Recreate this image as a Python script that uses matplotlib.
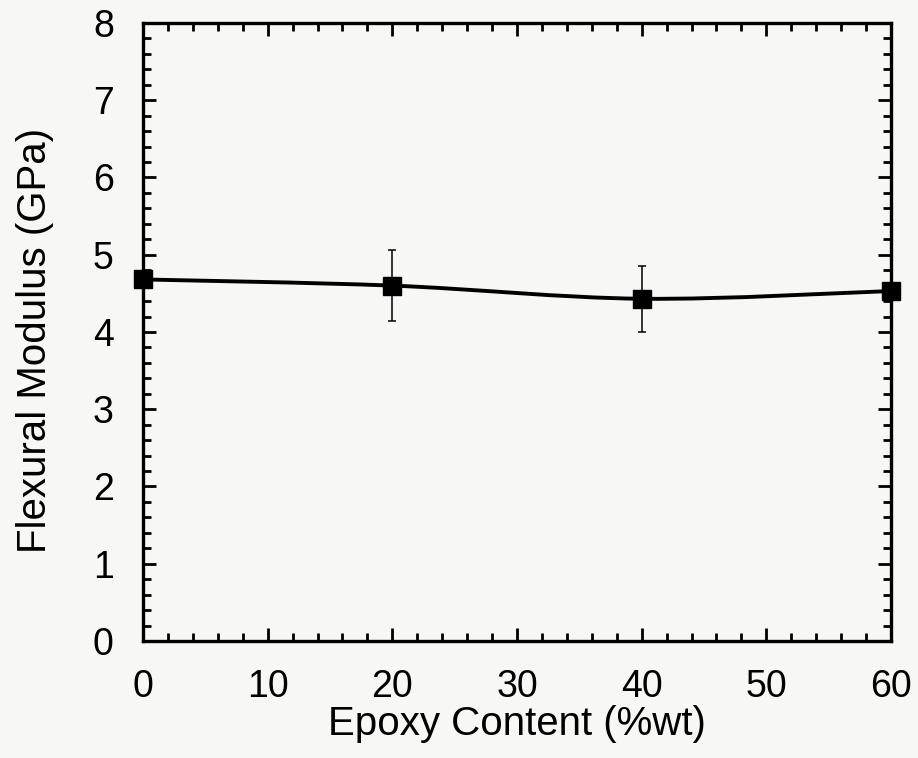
import numpy as np
import matplotlib
matplotlib.use("Agg")
import matplotlib.pyplot as plt
from matplotlib.path import Path
from matplotlib.patches import PathPatch
from matplotlib.ticker import MultipleLocator

# Values
epoxy_pct = [0, 20, 40, 60]
modulus_gpa = [4.68, 4.60, 4.43, 4.53]
modulus_err = [0.0, 0.46, 0.43, 0.0]

plt.rcParams["font.family"] = ["Liberation Sans", "DejaVu Sans"]

fig = plt.figure(figsize=(9.18, 7.58), dpi=100, facecolor="#f7f7f6")
ax = fig.add_axes([0.1558, 0.1544, 0.8148, 0.8153])
ax.set_facecolor("#f7f7f6")


def smooth_path(xs, ys):
    # Catmull-Rom through the data points, handed to matplotlib as cubic Bezier
    pts = np.column_stack([xs, ys]).astype(float)
    verts = [pts[0]]
    codes = [Path.MOVETO]
    n = len(pts)
    for i in range(n - 1):
        p0 = pts[max(i - 1, 0)]
        p1 = pts[i]
        p2 = pts[i + 1]
        p3 = pts[min(i + 2, n - 1)]
        c1 = p1 + (p2 - p0) / 6.0
        c2 = p2 - (p3 - p1) / 6.0
        verts += [c1, c2, p2]
        codes += [Path.CURVE4] * 3
    return Path(verts, codes)


ax.add_patch(PathPatch(smooth_path(epoxy_pct, modulus_gpa), facecolor="none",
                       edgecolor="black", linewidth=2.8, zorder=2))

ax.errorbar(epoxy_pct, modulus_gpa, yerr=modulus_err, fmt="s", color="black",
            markersize=13, ecolor="black", elinewidth=1.1, capsize=3,
            capthick=1.1, clip_on=False, zorder=3)

ax.set_xlim(0, 60)
ax.set_ylim(0, 8)
ax.xaxis.set_major_locator(MultipleLocator(10))
ax.xaxis.set_minor_locator(MultipleLocator(2))
ax.yaxis.set_major_locator(MultipleLocator(1))
ax.yaxis.set_minor_locator(MultipleLocator(0.2))

ax.tick_params(which="both", direction="in", top=True, right=True, width=2.0)
ax.tick_params(which="major", length=9.5)
ax.tick_params(which="minor", length=6)
ax.tick_params(axis="x", which="major", labelsize=27, pad=20)
ax.tick_params(axis="y", which="major", labelsize=27, pad=21)

for side in ax.spines.values():
    side.set_linewidth(2.4)

ax.set_xlabel("Epoxy Content (%wt)", fontsize=29)
ax.set_ylabel("Flexural Modulus (GPa)", fontsize=29)
ax.xaxis.set_label_coords(0.5, -0.104)
ax.yaxis.set_label_coords(-0.119, 0.487)

fig.savefig("out.png", dpi=100, facecolor=fig.get_facecolor())
